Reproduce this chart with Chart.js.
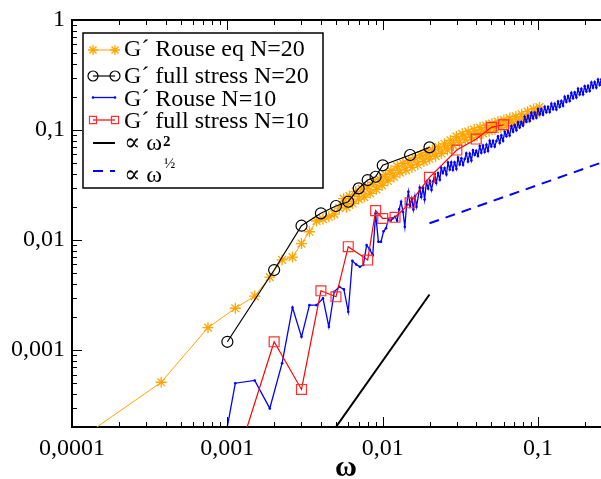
<!DOCTYPE html>
<html>
<head>
<meta charset="utf-8">
<title>G' vs omega</title>
<script src="https://cdn.jsdelivr.net/npm/chart.js@4.4.1/dist/chart.umd.min.js"></script>
<style>
  html, body { margin: 0; padding: 0; background: #fff; }
  canvas { display: block; }
</style>
</head>
<body>
<canvas id="modChart" width="601" height="479"></canvas>
<script>
// axis ticks and labels (decimal comma as in the original)
const xTicks = [0.0001, 0.001, 0.01, 0.1]
const xTickLabels = ["0,0001", "0,001", "0,01", "0,1"]
const yTicks = [0.001, 0.01, 0.1, 1]
const yTickLabels = ["0,001", "0,01", "0,1", "1"]
const decades = [0.0001, 0.001, 0.01, 0.1]

// G' Rouse eq N=20 (orange stars)
const rouse20X = [0.0001, 0.000375, 0.00075, 0.001125, 0.0015, 0.001875, 0.00225, 0.002625, 0.003, 0.003375,
  0.00375, 0.004125, 0.0045, 0.004875, 0.00525,
  0.0056, 0.00585, 0.0061, 0.0064, 0.0067, 0.0070, 0.0073, 0.0076, 0.0080, 0.0083,
  0.0087, 0.0091, 0.0095, 0.0099, 0.0104, 0.0108, 0.0113, 0.0118, 0.0124, 0.0129,
  0.0135, 0.0141, 0.0147, 0.0154, 0.0161, 0.0168, 0.0176, 0.0184, 0.0192, 0.0200,
  0.0209, 0.0219, 0.0229, 0.0239, 0.0250, 0.0261, 0.0273, 0.0285, 0.0298, 0.0311,
  0.0325, 0.0340, 0.0355, 0.0371, 0.0388, 0.0405, 0.0423, 0.0442, 0.0462, 0.0483,
  0.0505, 0.0528, 0.0551, 0.0576, 0.0602, 0.0629, 0.0657, 0.0687, 0.0718, 0.0750,
  0.0784, 0.0819, 0.0856, 0.0894, 0.0935, 0.0977, 0.1020]
const rouse20Y = [0.000139, 0.00051, 0.0016, 0.0024, 0.0031, 0.0046, 0.0066, 0.0070, 0.0093, 0.0119,
  0.0149, 0.0155, 0.0163, 0.0172, 0.0195,
  0.0238, 0.0199, 0.0251, 0.0215, 0.0276, 0.0236, 0.0292, 0.0246, 0.0309, 0.0266,
  0.0335, 0.0289, 0.0359, 0.0314, 0.0393, 0.0344, 0.0428, 0.0375, 0.0469, 0.0410,
  0.0499, 0.0433, 0.0526, 0.0457, 0.0557, 0.0484, 0.0592, 0.0517, 0.0626, 0.0546,
  0.0660, 0.0579, 0.0701, 0.0612, 0.0750, 0.0660, 0.0805, 0.0725, 0.0874, 0.0771,
  0.0923, 0.0815, 0.0967, 0.0853, 0.1009, 0.0893, 0.1053, 0.0933, 0.1100, 0.0977,
  0.1145, 0.1018, 0.1192, 0.1056, 0.1235, 0.1100, 0.1283, 0.1145, 0.1330, 0.1188,
  0.1390, 0.1253, 0.1467, 0.1329, 0.1551, 0.1411, 0.1615]

// G' full stress N=20 (black circles)
const full20X = [0.001, 0.002, 0.003, 0.004, 0.005, 0.006, 0.007, 0.008, 0.009, 0.01, 0.015, 0.02]
const full20Y = [0.00119, 0.00534, 0.0135, 0.0175, 0.0204, 0.0223, 0.0295, 0.0351, 0.0376, 0.0478, 0.0593, 0.0696]

// G' Rouse N=10 (blue dots)
const rouse10X = [0.00075, 0.001125, 0.0015, 0.001875, 0.00225, 0.002625, 0.003, 0.003375, 0.00375, 0.004125,
  0.0045, 0.004875, 0.00525, 0.005625, 0.006, 0.006375, 0.00675, 0.007125, 0.0075, 0.007875,
  0.00825, 0.008625, 0.009, 0.009375, 0.00975, 0.010125, 0.0105, 0.010875, 0.01125, 0.011625,
  0.012, 0.012375, 0.01275, 0.013125, 0.0135, 0.013875, 0.01425, 0.014625, 0.015, 0.015375,
  0.01575, 0.016125, 0.0165,
  0.0173, 0.0177, 0.0182, 0.0186, 0.0191, 0.0196, 0.0201, 0.0206, 0.0211, 0.0216,
  0.0221, 0.0227, 0.0233, 0.0238, 0.0244, 0.0250, 0.0257, 0.0263, 0.0270, 0.0276,
  0.0283, 0.0290, 0.0298, 0.0305, 0.0313, 0.0321, 0.0329, 0.0337, 0.0345, 0.0354,
  0.0363, 0.0372, 0.0381, 0.0391, 0.0400, 0.0410, 0.0421, 0.0431, 0.0442, 0.0453,
  0.0465, 0.0476, 0.0488, 0.0500, 0.0513, 0.0526, 0.0539, 0.0552, 0.0566, 0.0580,
  0.0595, 0.0610, 0.0625, 0.0640, 0.0656, 0.0673, 0.0690, 0.0707, 0.0725, 0.0743,
  0.0761, 0.0780, 0.0800, 0.0820, 0.0840, 0.0861, 0.0883, 0.0905, 0.0928, 0.0951,
  0.0975, 0.0999, 0.1024, 0.1050, 0.1076, 0.1103, 0.1130, 0.1159, 0.1188, 0.1217,
  0.1248, 0.1279, 0.1311, 0.1344, 0.1377, 0.1412, 0.1447, 0.1483, 0.1520, 0.1558,
  0.1597, 0.1637, 0.1678, 0.1720, 0.1763, 0.1807, 0.1852, 0.1899, 0.1946, 0.1995,
  0.2045, 0.2096, 0.2148, 0.2202, 0.2257, 0.2313, 0.2371, 0.2430, 0.2491, 0.2553,
  0.2617]
const rouse10Y = [0.000022, 0.0005, 0.00053, 0.000295, 0.00076, 0.00244, 0.00132, 0.00256, 0.00256, 0.00295,
  0.00163, 0.00339, 0.00376, 0.00356, 0.00223, 0.00648, 0.0060, 0.00572, 0.00593, 0.0090,
  0.0082, 0.0073, 0.0175, 0.00965, 0.00965, 0.0120, 0.0128, 0.0154, 0.0150, 0.0158,
  0.0163, 0.0150, 0.0190, 0.0223, 0.0180, 0.0132, 0.0210, 0.0275, 0.0205, 0.0240,
  0.0190, 0.0250, 0.0201,
  0.0300, 0.0246, 0.0298, 0.0234, 0.0337, 0.0294, 0.0345, 0.0285, 0.0340, 0.0398,
  0.0330, 0.0406, 0.0354, 0.0453, 0.0406, 0.0451, 0.0395, 0.0506, 0.0438, 0.0508,
  0.0433, 0.0508, 0.0443, 0.0561, 0.0486, 0.0554, 0.0482, 0.0546, 0.0613, 0.0518,
  0.0610, 0.0528, 0.0653, 0.0593, 0.0649, 0.0580, 0.0717, 0.0622, 0.0722, 0.0631,
  0.0734, 0.0646, 0.0797, 0.0708, 0.0799, 0.0707, 0.0793, 0.0875, 0.0763, 0.0895,
  0.0797, 0.0963, 0.0879, 0.0980, 0.0892, 0.1084, 0.0967, 0.1108, 0.0995, 0.1174,
  0.1056, 0.1186, 0.1097, 0.1319, 0.1188, 0.1345, 0.1210, 0.1432, 0.1279, 0.1440,
  0.1296, 0.1549, 0.1387, 0.1554, 0.1380, 0.1627, 0.1449, 0.1626, 0.1457, 0.1733,
  0.1546, 0.1733, 0.1539, 0.1816, 0.1620, 0.1836, 0.1663, 0.2000, 0.1802, 0.2040,
  0.1835, 0.2176, 0.1949, 0.2198, 0.1982, 0.2371, 0.2104, 0.2368, 0.2111, 0.2500,
  0.2235, 0.2517, 0.2266, 0.2708, 0.2423, 0.2726, 0.2431, 0.2876, 0.2571, 0.2893,
  0.2604]

// G' full stress N=10 (red squares)
const full10X = [0.001, 0.002, 0.003, 0.004, 0.005, 0.006, 0.008, 0.009, 0.01, 0.012, 0.015, 0.02, 0.03, 0.04, 0.05, 0.06]
const full10Y = [0.000054, 0.00119, 0.000439, 0.00346, 0.00305, 0.0087, 0.00658, 0.0185, 0.0157, 0.0161, 0.0218, 0.0372, 0.0658, 0.0828, 0.1058, 0.1117]

// guide lines
const slope2X = [0.004, 0.02]
const slope2Y = [0.000128, 0.0032]
const slopeHalfX = [0.02, 1]
const slopeHalfY = [0.0142, 0.1]

const serif = "'Liberation Serif', 'DejaVu Serif', serif"

function pts(xs, ys) {
  return xs.map((x, i) => ({ x: x, y: ys[i] }))
}

function minorTicks(lo, hi) {
  var out = []
  decades.forEach((d) => {
    for (var m = 2; m <= 9; m++) {
      var v = d * m
      if (v > lo && v < hi) out.push(v)
    }
  })
  return out
}

// plot frame runs to the right edge of the canvas, as in the cropped original
const areaPlugin = {
  id: "area",
  afterLayout(chart) {
    var a = chart.chartArea
    var xs = chart.scales.x
    var ys = chart.scales.y
    a.right = chart.width
    a.top = 20
    a.width = a.right - a.left
    a.height = a.bottom - a.top
    xs.right = a.right
    xs.width = xs.right - xs.left
    xs.configure()
    ys.top = a.top
    ys.height = ys.bottom - ys.top
    ys.configure()
  },
}

// inward ticks, top frame line and the w axis title
const framePlugin = {
  id: "frame",
  afterDraw(chart) {
    var ctx = chart.ctx
    var a = chart.chartArea
    var xs = chart.scales.x
    var ys = chart.scales.y
    ctx.save()
    ctx.strokeStyle = "#000"
    ctx.lineWidth = 2
    ctx.beginPath()
    ctx.moveTo(a.left - 1, a.top)
    ctx.lineTo(a.right, a.top)
    ctx.stroke()

    ctx.lineWidth = 1
    var xTick = (v, len) => {
      var px = Math.round(xs.getPixelForValue(v)) + 0.5
      ctx.beginPath()
      ctx.moveTo(px, a.bottom)
      ctx.lineTo(px, a.bottom - len)
      ctx.moveTo(px, a.top)
      ctx.lineTo(px, a.top + len)
      ctx.stroke()
    }
    var yTick = (v, len) => {
      var py = Math.round(ys.getPixelForValue(v)) + 0.5
      ctx.beginPath()
      ctx.moveTo(a.left, py)
      ctx.lineTo(a.left + len, py)
      ctx.stroke()
    }
    xTicks.forEach((v) => xTick(v, 10))
    minorTicks(xs.min, xs.max).forEach((v) => xTick(v, 5))
    yTicks.forEach((v) => { if (v < ys.max) yTick(v, 10) })
    minorTicks(ys.min, ys.max).forEach((v) => yTick(v, 5))

    ctx.fillStyle = "#000"
    ctx.font = "bold 30px " + serif
    ctx.textAlign = "center"
    ctx.textBaseline = "alphabetic"
    ctx.fillText("ω", 346, 476)
    ctx.restore()
  },
}

// legend box in the upper left corner
const legendRows = [
  { sym: 50, base: 56 },
  { sym: 76, base: 83 },
  { sym: 97.5, base: 105.5 },
  { sym: 120, base: 128 },
  { sym: 143, base: 150 },
  { sym: 171, base: 181.5 },
]

const legendPlugin = {
  id: "boxLegend",
  afterDraw(chart) {
    var ctx = chart.ctx
    ctx.save()
    ctx.fillStyle = "#fff"
    ctx.fillRect(83, 33, 240, 155)
    ctx.strokeStyle = "#000"
    ctx.lineWidth = 1.5
    ctx.strokeRect(83, 33, 240, 155)

    chart.data.datasets.forEach((ds, i) => {
      var row = legendRows[i]
      ctx.save()
      ctx.strokeStyle = ds.borderColor
      ctx.lineWidth = ds.borderWidth
      ctx.setLineDash(ds.borderDash || [])
      ctx.beginPath()
      ctx.moveTo(93, row.sym)
      ctx.lineTo(115, row.sym)
      ctx.stroke()
      ctx.setLineDash([])
      if (ds.pointRadius > 0) {
        ctx.strokeStyle = ds.pointBorderColor || ds.borderColor
        ctx.fillStyle = ds.pointBackgroundColor || ds.borderColor
        var opts = {
          pointStyle: ds.pointStyle,
          radius: Math.min(ds.pointRadius, 5),
          borderWidth: ds.pointBorderWidth,
          rotation: 0,
        }
        ctx.lineWidth = ds.pointBorderWidth
        Chart.helpers.drawPoint(ctx, opts, 93, row.sym)
        Chart.helpers.drawPoint(ctx, opts, 115, row.sym)
      }
      ctx.restore()

      ctx.fillStyle = "#000"
      ctx.textAlign = "left"
      ctx.textBaseline = "alphabetic"
      ctx.font = "24px " + serif
      ctx.fillText(ds.label, 124, row.base)
      if (ds.legendSup) {
        var w = ctx.measureText(ds.label).width
        if (ds.legendSup === "2") {
          ctx.font = "bold 15px " + serif
          ctx.fillText(ds.legendSup, 124 + w + 1, row.base - 4)
        } else {
          ctx.font = "15px " + serif
          ctx.fillText(ds.legendSup, 124 + w + 2, row.base - 14)
        }
      }
    })
    ctx.restore()
  },
}

const ctx = document.getElementById("modChart").getContext("2d")

new Chart(ctx, {
  type: "line",
  data: {
    datasets: [
      {
        label: "G´ Rouse eq N=20",
        data: pts(rouse20X, rouse20Y),
        borderColor: "#FFA500",
        borderWidth: 1,
        pointStyle: "star",
        pointRadius: 5.5,
        pointBorderWidth: 1.3,
        pointBorderColor: "#FFA500",
        pointBackgroundColor: "#FFA500",
        order: 5,
      },
      {
        label: "G´ full stress N=20",
        data: pts(full20X, full20Y),
        borderColor: "#000000",
        borderWidth: 1.2,
        pointStyle: "circle",
        pointRadius: 5.5,
        pointBorderWidth: 1.2,
        pointBorderColor: "#000000",
        pointBackgroundColor: "rgba(0,0,0,0)",
        order: 2,
      },
      {
        label: "G´ Rouse N=10",
        data: pts(rouse10X, rouse10Y),
        borderColor: "#0000FF",
        borderWidth: 1.3,
        pointStyle: "circle",
        pointRadius: 1.3,
        pointBorderWidth: 0,
        pointBorderColor: "#0000FF",
        pointBackgroundColor: "#0000FF",
        order: 4,
      },
      {
        label: "G´ full stress N=10",
        data: pts(full10X, full10Y),
        borderColor: "#FF0000",
        borderWidth: 1.2,
        pointStyle: "rect",
        pointRadius: 7,
        pointBorderWidth: 1.2,
        pointBorderColor: "#FF3030",
        pointBackgroundColor: "rgba(0,0,0,0)",
        order: 1,
      },
      {
        label: "∝ ω",
        legendSup: "2",
        data: pts(slope2X, slope2Y),
        borderColor: "#000000",
        borderWidth: 2,
        pointRadius: 0,
        order: 0,
      },
      {
        label: "∝ ω",
        legendSup: "½",
        data: pts(slopeHalfX, slopeHalfY),
        borderColor: "#0000FF",
        borderWidth: 2,
        borderDash: [10, 7],
        pointRadius: 0,
        order: 0,
      },
    ],
  },
  options: {
    responsive: false,
    animation: false,
    events: [],
    layout: { padding: { top: 20, left: 0, right: 0, bottom: 0 } },
    plugins: {
      legend: { display: false },
      tooltip: { enabled: false },
    },
    scales: {
      x: {
        type: "logarithmic",
        position: "bottom",
        min: 0.0001,
        max: 0.254,
        grid: { display: false, drawTicks: false, tickLength: 0 },
        border: { display: true, color: "#000", width: 2 },
        ticks: {
          color: "#000",
          font: { family: serif, size: 24 },
          padding: 7,
          maxRotation: 0,
          autoSkip: false,
          callback: (v) => {
            var i = xTicks.findIndex((t) => Math.abs(t - v) / t < 1e-6)
            return i >= 0 ? xTickLabels[i] : ""
          },
        },
        afterBuildTicks: (scale) => {
          scale.ticks = xTicks.map((v) => ({ value: v, major: true }))
        },
        afterFit: (scale) => {
          scale.height = 52
        },
      },
      y: {
        type: "logarithmic",
        position: "left",
        min: 0.0002,
        max: 1,
        grid: { display: false, drawTicks: false, tickLength: 0 },
        border: { display: true, color: "#000", width: 2 },
        ticks: {
          color: "#000",
          font: { family: serif, size: 24 },
          padding: 7,
          autoSkip: false,
          callback: (v) => {
            var i = yTicks.findIndex((t) => Math.abs(t - v) / t < 1e-6)
            return i >= 0 ? yTickLabels[i] : ""
          },
        },
        afterBuildTicks: (scale) => {
          scale.ticks = yTicks.map((v) => ({ value: v, major: true }))
        },
        afterFit: (scale) => {
          scale.width = 72
        },
      },
    },
  },
  plugins: [areaPlugin, framePlugin, legendPlugin],
})
</script>
</body>
</html>
